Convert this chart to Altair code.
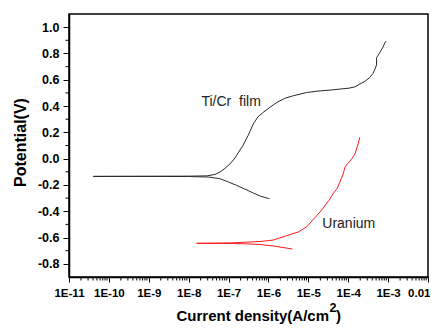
import altair as alt
import pandas as pd

FONT = "Liberation Sans"

# Ti/Cr film polarisation curve: log10 current density (A/cm2) and potential (V)
ticr_cath_logi = [-5.97, -6.0, -6.2, -6.38, -6.6, -6.8, -7.0, -7.22, -7.5, -8.0, -9.0, -10.39]
ticr_cath_e = [-0.305, -0.303, -0.285, -0.261, -0.230, -0.203, -0.178, -0.152, -0.140, -0.136, -0.135, -0.135]
ticr_anod_logi = [-9.0, -8.0, -7.54, -7.34, -7.22, -7.09, -6.96, -6.84, -6.64, -6.51,
                  -6.38, -6.26, -6.13, -5.96, -5.79, -5.59, -5.38, -5.04, -4.76, -4.46,
                  -4.21, -3.98, -3.83, -3.71, -3.58, -3.46, -3.38, -3.33, -3.29, -3.29,
                  -3.26, -3.21, -3.14, -3.08, -3.05]
ticr_anod_e = [-0.134, -0.133, -0.131, -0.120, -0.102, -0.074, -0.039, 0.005, 0.100, 0.176,
               0.264, 0.319, 0.352, 0.391, 0.427, 0.459, 0.478, 0.503, 0.514, 0.521,
               0.529, 0.536, 0.546, 0.567, 0.588, 0.617, 0.648, 0.680, 0.713, 0.768,
               0.781, 0.806, 0.841, 0.881, 0.894]

# Uranium polarisation curve
u_cath_logi = [-5.40, -5.88, -6.21, -6.54, -6.96, -7.80]
u_cath_e = [-0.687, -0.664, -0.653, -0.648, -0.645, -0.644]
u_anod_logi = [-6.96, -6.54, -6.21, -5.88, -5.57, -5.24, -5.04, -4.88, -4.68, -4.48,
               -4.38, -4.28, -4.21, -4.13, -4.08, -4.01, -3.91, -3.83, -3.75, -3.71]
u_anod_e = [-0.641, -0.635, -0.630, -0.619, -0.589, -0.556, -0.518, -0.464, -0.396, -0.316,
            -0.266, -0.228, -0.178, -0.120, -0.064, -0.036, -0.001, 0.037, 0.113, 0.163]

series_names = ["Ti/Cr film", "Uranium"]
series_colors = ["#2a2a2a", "#ff1a1a"]

# curve labels (log10 current, potential)
label_texts = ["Ti/Cr\u00a0 film", "Uranium"]
label_logi = [-7.68, -4.65]
label_e = [0.402, -0.526]

x_decades = list(range(-11, -1))
y_major = [-0.8, -0.6, -0.4, -0.2, 0.0, 0.2, 0.4, 0.6, 0.8, 1.0]
y_minor = [-0.7, -0.5, -0.3, -0.1, 0.1, 0.3, 0.5, 0.7, 0.9]

rows = []
for name, li, e in [("Ti/Cr film", ticr_cath_logi + ticr_anod_logi, ticr_cath_e + ticr_anod_e),
                    ("Uranium", u_cath_logi + u_anod_logi, u_cath_e + u_anod_e)]:
    for k, (a, b) in enumerate(zip(li, e)):
        rows.append({"series": name, "i": 10 ** a, "E": b, "k": k})
df = pd.DataFrame(rows)

lab_df = pd.DataFrame({"txt": label_texts, "i": [10 ** v for v in label_logi], "E": label_e})

x_major = [10.0 ** d for d in x_decades]
x_minor = [m * 10.0 ** d for d in x_decades[:-1] for m in range(2, 10)]
xminor_df = pd.DataFrame({"i": x_minor})
yminor_df = pd.DataFrame({"E": y_minor})

x_axis = alt.Axis(
    values=x_major, tickCount=40,
    labelExpr="datum.value > 0.005 ? '0.01' : '1E' + round(log(datum.value)/LN10)",
    labelAlign={"condition": {"test": "datum.value > 0.005", "value": "right"}, "value": "center"},
    labelOffset={"condition": {"test": "datum.value > 0.005", "value": 2}, "value": 0},
    tickSize=5,
    labelFlush=False, labelOverlap=False, grid=False, title=None,
    labelFont=FONT, labelFontSize=11.5, labelFontWeight="bold", labelColor="black",
    labelPadding=5, domainColor="black", domainWidth=1.5, tickColor="black", tickWidth=1,
)

y_axis = alt.Axis(
    values=y_major, tickCount=40,
    labelExpr="datum.value < -0.001 ? '-' + format(abs(datum.value), '.1f') : format(abs(datum.value), '.1f')",
    tickSize=6,
    labelFlush=False, labelOverlap=False, grid=False, title=None,
    labelFont=FONT, labelFontSize=12.5, labelFontWeight="bold", labelColor="black",
    labelPadding=4, domainColor="black", domainWidth=1.5, tickColor="black", tickWidth=1,
)

xs = alt.Scale(type="log", domain=[1e-11, 1e-2], nice=False)
ys = alt.Scale(domain=[-0.9, 1.1], nice=False, zero=False)

lines = alt.Chart(df).mark_line(strokeWidth=1, clip=True).encode(
    x=alt.X("i:Q", scale=xs, axis=x_axis),
    y=alt.Y("E:Q", scale=ys, axis=y_axis),
    color=alt.Color("series:N", scale=alt.Scale(domain=series_names, range=series_colors), legend=None),
    detail="series:N",
    order="k:Q",
)

xminor = alt.Chart(xminor_df).mark_rule(color="black", strokeWidth=1).encode(
    x=alt.X("i:Q", scale=xs), y=alt.value(263), y2=alt.value(266.5)
)
yminor = alt.Chart(yminor_df).mark_rule(color="black", strokeWidth=1).encode(
    y=alt.Y("E:Q", scale=ys), x=alt.value(-3.5), x2=alt.value(0)
)

labels = alt.Chart(lab_df).mark_text(
    align="left", baseline="alphabetic", font=FONT, fontSize=14, color="#222"
).encode(x=alt.X("i:Q", scale=xs), y=alt.Y("E:Q", scale=ys), text="txt:N")

one = pd.DataFrame({"a": [0]})
xt_main = alt.Chart(one).mark_text(
    text="Current density(A/cm", align="right", baseline="alphabetic",
    font=FONT, fontSize=15, fontWeight="bold", color="black"
).encode(x=alt.value(260), y=alt.value(307))
xt_sup = alt.Chart(one).mark_text(
    text="2", align="left", baseline="alphabetic",
    font=FONT, fontSize=12.5, fontWeight="bold", color="black"
).encode(x=alt.value(260.5), y=alt.value(298))
xt_par = alt.Chart(one).mark_text(
    text=")", align="left", baseline="alphabetic",
    font=FONT, fontSize=15, fontWeight="bold", color="black"
).encode(x=alt.value(267), y=alt.value(307))
yt = alt.Chart(one).mark_text(
    text="Potential(V)", align="center", baseline="alphabetic", angle=270,
    font=FONT, fontSize=16, fontWeight="bold", color="black"
).encode(x=alt.value(-43), y=alt.value(128.5))

chart = alt.layer(lines, xminor, yminor, labels, xt_main, xt_sup, xt_par, yt).properties(
    width=359, height=263,
    autosize=alt.AutoSizeParams(type="none"),
    padding={"left": 61, "top": 6, "right": 2, "bottom": 50},
).configure_view(stroke="black", strokeWidth=1.5)

chart.save("out.html", embed_options={"renderer": "svg", "actions": False})
